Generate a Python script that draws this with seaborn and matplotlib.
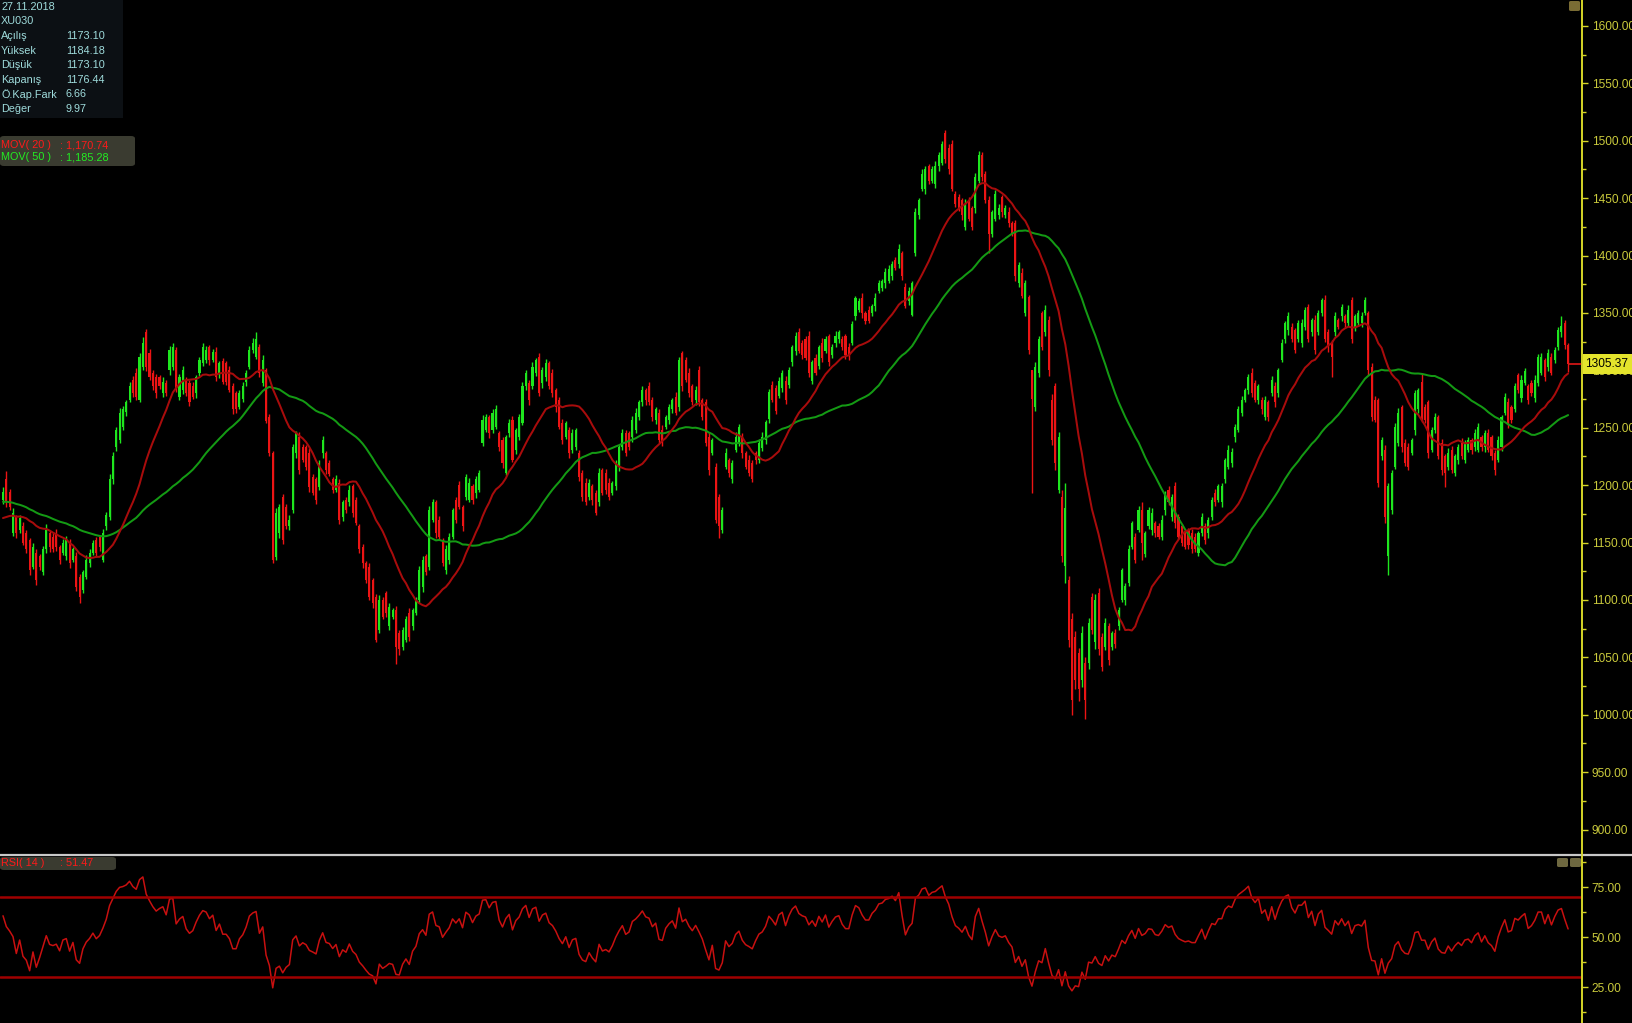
import numpy as np
import pandas as pd
import seaborn as sns
import matplotlib.pyplot as plt
from matplotlib.patches import Rectangle, FancyBboxPatch
from matplotlib.lines import Line2D
from matplotlib.ticker import MultipleLocator

# XU030 günlük mumlar (27.11.2018'den itibaren), değerler grafikten okundu
# ilk 50 kapanış grafiğin solunda kalan günler (MOV/RSI hesabı için)
warmup = [1180, 1188, 1195, 1203, 1210, 1206, 1199, 1204, 1212, 1208,
          1201, 1196, 1190, 1197, 1205, 1211, 1203, 1196, 1188, 1194,
          1200, 1192, 1185, 1190, 1183, 1178, 1186, 1192, 1185, 1178,
          1174, 1168, 1162, 1170, 1176, 1169, 1160, 1165, 1172, 1178,
          1171, 1163, 1158, 1166, 1174, 1180, 1175, 1168, 1176, 1182]

opens = [
    1187, 1205, 1194, 1158, 1172, 1161, 1164, 1158, 1152, 1129,
    1141, 1138, 1124, 1144, 1158, 1155, 1158, 1146, 1141, 1138,
    1150, 1135, 1138, 1120, 1109, 1120, 1132, 1141, 1152, 1155,
    1135, 1164, 1172, 1205, 1233, 1239, 1251, 1264, 1274, 1292,
    1298, 1274, 1303, 1333, 1315, 1298, 1294, 1294, 1280, 1289,
    1300, 1303, 1318, 1277, 1283, 1292, 1289, 1286, 1280, 1298,
    1306, 1309, 1320, 1309, 1316, 1297, 1308, 1306, 1300, 1286,
    1280, 1268, 1275, 1290, 1303, 1318, 1312, 1320, 1289, 1300,
    1259, 1228, 1137, 1158, 1190, 1181, 1164, 1178, 1228, 1242,
    1233, 1233, 1228, 1207, 1205, 1198, 1228, 1228, 1219, 1205,
    1196, 1202, 1172, 1187, 1185, 1199, 1187, 1164, 1146, 1132,
    1129, 1117, 1103, 1074, 1100, 1106, 1077, 1085, 1091, 1071,
    1059, 1065, 1089, 1077, 1089, 1100, 1111, 1138, 1129, 1170,
    1185, 1170, 1152, 1126, 1135, 1155, 1187, 1200, 1181, 1190,
    1187, 1199, 1193, 1196, 1237, 1248, 1259, 1248, 1251, 1245,
    1239, 1211, 1245, 1257, 1231, 1242, 1254, 1286, 1289, 1286,
    1298, 1312, 1289, 1294, 1306, 1298, 1283, 1274, 1254, 1242,
    1248, 1231, 1233, 1228, 1211, 1202, 1190, 1199, 1193, 1185,
    1213, 1211, 1202, 1193, 1199, 1216, 1233, 1245, 1245, 1242,
    1248, 1259, 1272, 1283, 1286, 1274, 1257, 1263, 1248, 1251,
    1257, 1266, 1277, 1268, 1315, 1309, 1298, 1286, 1274, 1300,
    1274, 1272, 1242, 1228, 1216, 1190, 1161, 1216, 1222, 1205,
    1231, 1237, 1242, 1228, 1222, 1219, 1228, 1222, 1232, 1239,
    1258, 1287, 1285, 1278, 1285, 1291, 1287, 1307, 1317, 1333,
    1324, 1327, 1330, 1291, 1311, 1304, 1324, 1317, 1330, 1313,
    1324, 1327, 1327, 1330, 1320, 1324, 1347, 1353, 1363, 1350,
    1353, 1350, 1356, 1369, 1372, 1376, 1378, 1382, 1396, 1393,
    1402, 1373, 1360, 1348, 1402, 1435, 1458, 1458, 1478, 1465,
    1462, 1478, 1481, 1507, 1494, 1497, 1454, 1451, 1448, 1425,
    1448, 1441, 1441, 1465, 1488, 1471, 1448, 1419, 1432, 1435,
    1451, 1435, 1438, 1428, 1428, 1376, 1385, 1350, 1364, 1300,
    1268, 1298, 1350, 1333, 1344, 1274, 1286, 1196, 1190, 1130,
    1117, 1083, 1068, 1054, 1030, 1045, 1045, 1103, 1063, 1106,
    1068, 1059, 1077, 1059, 1071, 1077, 1100, 1100, 1115, 1146,
    1155, 1161, 1178, 1140, 1164, 1161, 1167, 1164, 1155, 1178,
    1196, 1172, 1199, 1172, 1164, 1158, 1161, 1158, 1155, 1141,
    1158, 1164, 1158, 1172, 1193, 1187, 1185, 1205, 1216, 1219,
    1242, 1248, 1263, 1274, 1283, 1298, 1289, 1274, 1274, 1259,
    1272, 1280, 1286, 1280, 1309, 1327, 1335, 1338, 1335, 1327,
    1324, 1338, 1355, 1333, 1344, 1333, 1350, 1361, 1333, 1324,
    1333, 1344, 1347, 1347, 1341, 1361, 1338, 1341, 1341, 1350,
    1350, 1303, 1274, 1274, 1225, 1231, 1138, 1178, 1216, 1237,
    1268, 1237, 1233, 1228, 1248, 1266, 1290, 1268, 1272, 1231,
    1248, 1259, 1237, 1225, 1216, 1231, 1211, 1222, 1237, 1222,
    1231, 1239, 1233, 1231, 1242, 1233, 1245, 1242, 1228, 1222,
    1233, 1263, 1272, 1268, 1266, 1296, 1276, 1289, 1286, 1289,
    1276, 1289, 1298, 1309, 1303, 1312, 1309, 1320, 1333, 1341,
    1322]

closes = [
    1194, 1185, 1181, 1176, 1158, 1171, 1150, 1144, 1126, 1146,
    1117, 1129, 1144, 1161, 1146, 1144, 1146, 1135, 1150, 1152,
    1132, 1144, 1111, 1103, 1124, 1135, 1141, 1150, 1141, 1146,
    1158, 1174, 1205, 1225, 1248, 1263, 1266, 1272, 1286, 1280,
    1277, 1312, 1324, 1303, 1294, 1286, 1280, 1286, 1290, 1280,
    1318, 1320, 1283, 1294, 1300, 1280, 1272, 1277, 1294, 1309,
    1320, 1318, 1309, 1316, 1294, 1306, 1290, 1290, 1283, 1266,
    1266, 1280, 1286, 1298, 1318, 1324, 1327, 1298, 1309, 1256,
    1228, 1135, 1176, 1181, 1152, 1164, 1170, 1233, 1245, 1213,
    1222, 1216, 1198, 1193, 1187, 1219, 1239, 1213, 1210, 1196,
    1205, 1170, 1185, 1178, 1196, 1176, 1167, 1144, 1132, 1117,
    1103, 1097, 1065, 1100, 1085, 1089, 1094, 1091, 1059, 1057,
    1074, 1083, 1068, 1091, 1100, 1126, 1135, 1124, 1178, 1185,
    1158, 1155, 1132, 1144, 1155, 1178, 1170, 1181, 1164, 1207,
    1202, 1187, 1205, 1211, 1257, 1259, 1245, 1263, 1266, 1233,
    1219, 1242, 1254, 1222, 1248, 1259, 1286, 1298, 1274, 1303,
    1309, 1280, 1300, 1306, 1286, 1280, 1268, 1251, 1239, 1254,
    1228, 1245, 1248, 1207, 1190, 1185, 1202, 1187, 1176, 1211,
    1193, 1196, 1190, 1202, 1219, 1233, 1245, 1228, 1233, 1257,
    1263, 1272, 1283, 1274, 1272, 1259, 1266, 1239, 1237, 1259,
    1268, 1274, 1263, 1309, 1286, 1292, 1280, 1272, 1283, 1272,
    1259, 1237, 1213, 1239, 1170, 1164, 1178, 1228, 1211, 1219,
    1242, 1251, 1228, 1216, 1211, 1205, 1222, 1237, 1242, 1255,
    1281, 1274, 1265, 1291, 1298, 1274, 1300, 1320, 1330, 1317,
    1313, 1311, 1298, 1307, 1298, 1320, 1311, 1327, 1307, 1320,
    1330, 1333, 1320, 1313, 1313, 1340, 1363, 1360, 1350, 1343,
    1343, 1356, 1363, 1376, 1378, 1386, 1388, 1393, 1389, 1406,
    1382, 1356, 1369, 1376, 1438, 1448, 1471, 1475, 1465, 1475,
    1478, 1488, 1497, 1484, 1475, 1458, 1445, 1441, 1435, 1445,
    1432, 1425, 1468, 1488, 1468, 1448, 1419, 1438, 1454, 1441,
    1438, 1441, 1428, 1419, 1382, 1392, 1365, 1376, 1318, 1275,
    1303, 1327, 1320, 1353, 1300, 1239, 1219, 1242, 1138, 1180,
    1065, 1013, 1030, 1022, 1071, 1013, 1080, 1074, 1100, 1057,
    1042, 1080, 1048, 1071, 1062, 1091, 1126, 1112, 1144, 1167,
    1135, 1178, 1150, 1158, 1178, 1176, 1158, 1155, 1170, 1193,
    1185, 1190, 1167, 1155, 1150, 1146, 1148, 1144, 1144, 1158,
    1172, 1152, 1170, 1187, 1185, 1199, 1199, 1222, 1231, 1229,
    1251, 1266, 1274, 1283, 1294, 1280, 1274, 1286, 1266, 1274,
    1259, 1292, 1272, 1300, 1324, 1341, 1347, 1327, 1318, 1341,
    1341, 1353, 1327, 1344, 1318, 1350, 1361, 1327, 1320, 1312,
    1347, 1338, 1355, 1341, 1353, 1327, 1347, 1350, 1347, 1361,
    1300, 1259, 1257, 1202, 1239, 1172, 1199, 1211, 1251, 1263,
    1233, 1219, 1216, 1239, 1280, 1283, 1257, 1257, 1228, 1248,
    1259, 1225, 1213, 1211, 1228, 1213, 1225, 1233, 1225, 1237,
    1239, 1231, 1245, 1251, 1233, 1245, 1231, 1225, 1213, 1239,
    1259, 1277, 1254, 1257, 1286, 1283, 1292, 1299, 1274, 1280,
    1292, 1312, 1312, 1294, 1315, 1298, 1318, 1335, 1339, 1322,
    1305.37]

# üst / alt fitil uzunlukları (puan)
wick_up = [
    4, 7, 3, 4, 2, 3, 4, 3, 2, 4,  3, 2, 3, 5, 2, 3, 4, 2, 3, 4,
    3, 2, 4, 3, 2, 4, 3, 2, 3, 2,  4, 3, 5, 4, 3, 4, 3, 2, 4, 3,
    4, 3, 5, 3, 4, 2, 3, 2, 4, 3,  3, 4, 2, 3, 4, 2, 3, 4, 2, 3,
    4, 3, 2, 3, 4, 2, 3, 2, 4, 3,  2, 3, 4, 2, 3, 4, 6, 3, 4, 2,
    3, 2, 4, 3, 2, 3, 4, 3, 2, 4,  3, 2, 4, 3, 2, 3, 4, 2, 3, 2,
    4, 3, 2, 3, 4, 2, 3, 2, 3, 2,  3, 2, 2, 4, 3, 2, 3, 2, 4, 3,
    2, 3, 4, 2, 3, 4, 3, 2, 4, 3,  2, 3, 2, 4, 3, 2, 3, 4, 2, 3,
    4, 2, 3, 2, 4, 3, 2, 3, 4, 2,  3, 2, 4, 3, 2, 3, 4, 2, 3, 4,
    2, 3, 3, 4, 2, 3, 2, 3, 4, 2,  3, 4, 2, 3, 2, 4, 3, 2, 3, 4,
    2, 3, 4, 2, 3, 2, 4, 3, 2, 3,  4, 2, 3, 2, 4, 3, 2, 3, 4, 2,
    3, 2, 4, 3, 2, 3, 4, 2, 3, 4,  2, 3, 4, 2, 3, 2, 3, 4, 2, 3,
    4, 2, 3, 2, 4, 3, 2, 3, 4, 2,  3, 4, 2, 3, 2, 4, 3, 2, 3, 4,
    2, 3, 4, 2, 3, 2, 4, 3, 2, 3,  4, 2, 3, 2, 4, 3, 2, 3, 4, 2,
    3, 2, 4, 3, 2, 3, 4, 2, 3, 4,  2, 3, 4, 2, 3, 2, 4, 3, 2, 3,
    4, 2, 3, 2, 3, 4, 2, 3, 2, 4,  3, 2, 4, 3, 2, 3, 4, 2, 3, 4,
    2, 3, 4, 2, 3, 2, 4, 3, 2, 0,  4, 3, 2, 4, 3, 5, 3, 4, 6, 22,
    4, 6, 5, 4, 6, 5, 4, 3, 5, 4,  3, 4, 3, 2, 4, 3, 2, 3, 4, 2,
    3, 4, 7, 2, 3, 4, 2, 3, 4, 2,  3, 2, 4, 3, 2, 3, 2, 4, 3, 2,
    4, 3, 2, 3, 4, 2, 3, 2, 4, 3,  2, 3, 4, 2, 3, 4, 3, 2, 3, 4,
    2, 3, 4, 2, 3, 2, 4, 3, 2, 3,  4, 2, 3, 2, 4, 3, 2, 5, 3, 2,
    4, 2, 3, 2, 4, 3, 2, 3, 4, 3,  2, 3, 4, 2, 3, 4, 3, 2, 3, 4,
    2, 3, 4, 2, 3, 2, 8, 3, 2, 3,  4, 2, 3, 2, 4, 3, 2, 3, 4, 2,
    3, 2, 4, 3, 2, 3, 4, 2, 3, 4,  2, 3, 4, 2, 3, 2, 4, 3, 2, 3,
    4, 2, 3, 2, 4, 3, 2, 3, 8, 3,  2]

wick_dn = [
    3, 4, 3, 2, 4, 3, 2, 3, 4, 2,  4, 3, 2, 3, 4, 2, 3, 4, 2, 3,
    4, 2, 3, 6, 3, 2, 3, 2, 4, 3,  2, 3, 2, 4, 3, 2, 3, 4, 2, 3,
    3, 2, 3, 4, 2, 3, 4, 2, 3, 2,  4, 3, 2, 3, 4, 2, 3, 2, 4, 3,
    2, 3, 4, 2, 3, 4, 2, 3, 2, 4,  3, 2, 3, 4, 2, 3, 2, 4, 3, 2,
    3, 3, 2, 4, 3, 2, 3, 2, 4, 3,  2, 3, 4, 2, 3, 2, 4, 3, 2, 3,
    2, 4, 3, 2, 3, 4, 2, 3, 4, 2,  3, 4, 2, 3, 2, 4, 3, 2, 15, 5,
    3, 2, 4, 3, 2, 3, 4, 2, 3, 2,  4, 3, 2, 3, 4, 2, 3, 2, 4, 3,
    2, 3, 4, 2, 3, 2, 4, 3, 2, 3,  4, 2, 3, 2, 4, 3, 2, 3, 4, 2,
    3, 2, 4, 3, 2, 3, 4, 2, 3, 2,  4, 3, 2, 3, 4, 2, 3, 4, 2, 3,
    2, 4, 3, 2, 3, 4, 2, 3, 2, 4,  3, 2, 3, 4, 2, 3, 4, 2, 3, 2,
    4, 3, 2, 3, 4, 2, 3, 2, 4, 3,  2, 3, 4, 2, 3, 10, 3, 2, 4, 3,
    2, 3, 4, 2, 3, 2, 4, 3, 2, 3,  4, 2, 3, 2, 4, 3, 2, 3, 4, 2,
    3, 2, 4, 3, 2, 3, 4, 2, 3, 2,  4, 3, 2, 3, 4, 2, 3, 2, 4, 3,
    2, 3, 4, 2, 3, 4, 2, 3, 2, 4,  3, 2, 3, 1, 2, 3, 2, 4, 3, 2,
    3, 4, 2, 3, 4, 2, 3, 2, 4, 3,  2, 3, 4, 2, 3, 2, 17, 3, 2, 3,
    4, 2, 3, 2, 4, 3, 2, 3, 4, 82,  3, 4, 2, 3, 5, 4, 6, 3, 5, 15,
    6, 13, 8, 10, 6, 17, 5, 4, 6, 5,  4, 3, 5, 3, 4, 3, 2, 4, 3, 2,
    3, 2, 15, 3, 2, 4, 3, 2, 3, 4,  2, 3, 4, 2, 3, 2, 4, 3, 2, 3,
    2, 3, 4, 2, 3, 2, 4, 3, 2, 3,  4, 2, 3, 2, 4, 3, 2, 3, 4, 2,
    3, 2, 4, 3, 2, 3, 4, 2, 3, 2,  4, 3, 2, 3, 4, 2, 3, 2, 4, 18,
    3, 2, 4, 3, 2, 3, 4, 2, 3, 2,  4, 3, 2, 4, 3, 5, 16, 3, 2, 3,
    4, 2, 3, 2, 4, 3, 2, 3, 4, 2,  3, 2, 4, 13, 3, 2, 3, 4, 2, 3,
    2, 4, 3, 2, 3, 4, 2, 3, 4, 2,  3, 2, 4, 3, 2, 3, 4, 2, 3, 2,
    4, 3, 2, 3, 4, 2, 3, 2, 4, 3,  7]

info_labels = ["Açılış", "Yüksek", "Düşük", "Kapanış", "Ö.Kap.Fark", "Değer"]
info_values = ["1173.10", "1184.18", "1173.10", "1176.44", "6.66", "9.97"]
price_ticks = list(range(900, 1601, 50))
rsi_ticks = [25, 50, 75]
rsi_levels = [30, 70]

GREEN = "#1ee61e"
RED = "#ec1414"
MA20_C = "#a80c0c"
MA50_C = "#149a14"
YEL = "#d6d628"
YEL_TXT = "#caca3c"
INFO_TXT = "#9fdcdc"

sns.set_theme(style="dark", rc={"axes.facecolor": "black", "figure.facecolor": "black"})
plt.rcParams["font.family"] = ["Liberation Sans", "DejaVu Sans"]

n = min(len(opens), len(closes), len(wick_up), len(wick_dn))
df = pd.DataFrame({"i": np.arange(n), "open": opens[:n], "close": closes[:n],
                   "up": wick_up[:n], "dn": wick_dn[:n]})
df["top"] = df[["open", "close"]].max(axis=1)
df["bot"] = df[["open", "close"]].min(axis=1)
df["high"] = df["top"] + df["up"]
df["low"] = df["bot"] - df["dn"]

allc = pd.Series(warmup + list(df["close"]))
w = len(warmup)
df["ma20"] = allc.rolling(20).mean().iloc[w:].values
df["ma50"] = allc.rolling(50).mean().iloc[w:].values
delta = allc.diff()
gain = delta.clip(lower=0).ewm(alpha=1 / 14, adjust=False).mean()
loss = (-delta.clip(upper=0)).ewm(alpha=1 / 14, adjust=False).mean()
df["rsi"] = (100 - 100 / (1 + gain / loss)).iloc[w:].values

W, H = 1632, 1023
fig = plt.figure(figsize=(W / 100, H / 100), dpi=100)
ax = fig.add_axes([0, 1 - 854 / H, 1582 / W, 854 / H])
ax2 = fig.add_axes([0, 0, 1582 / W, 167 / H])

# mumlar
for is_up, col in [(True, GREEN), (False, RED)]:
    d = df[(df["close"] >= df["open"]) == is_up]
    ax.vlines(d["i"], d["low"], d["high"], color=col, lw=1.0, zorder=2)
    ax.bar(d["i"], (d["top"] - d["bot"]).clip(lower=0.9), bottom=d["bot"],
           width=0.62, color=col, linewidth=0, zorder=3)

sns.lineplot(data=df, x="i", y="ma50", ax=ax, color=MA50_C, lw=1.45, zorder=4)
sns.lineplot(data=df, x="i", y="ma20", ax=ax, color=MA20_C, lw=1.45, zorder=4)

xmax = (1582 - 3) / 3.33
xmin = -3 / 3.33
ax.set_xlim(xmin, xmax)
ax.set_ylim(878.7, 1622.6)

# son fiyat etiketi
last = df["close"].iloc[-1]
ax.hlines(last, df["i"].iloc[-1], xmax, color="#e01818", lw=1.2, zorder=5)
ax.add_patch(Rectangle((1.0006, last - 8.7), 50 / 1582, 17.4,
                       transform=ax.get_yaxis_transform(), clip_on=False,
                       facecolor="#e4e42c", edgecolor="none", zorder=10))
ax.text(1.0 + 25 / 1582, last, f"{last:.2f}", transform=ax.get_yaxis_transform(),
        ha="center", va="center", fontsize=8.6, color="black", zorder=11, clip_on=False)

sns.lineplot(data=df, x="i", y="rsi", ax=ax2, color="#c81010", lw=1.1)
for lv in rsi_levels:
    ax2.axhline(lv, color="#a00000", lw=1.8)
ax2.set_xlim(xmin, xmax)
ax2.set_ylim(7, 90.5)

for a, ticks, minor in [(ax, price_ticks, 25), (ax2, rsi_ticks, 12.5)]:
    a.set_facecolor("black")
    a.grid(False)
    a.set_xticks([])
    a.set_xlabel("")
    a.set_ylabel("")
    a.yaxis.tick_right()
    a.set_yticks(ticks)
    a.set_yticklabels([f"{t:.2f}" for t in ticks])
    a.yaxis.set_minor_locator(MultipleLocator(minor))
    a.tick_params(axis="y", which="major", length=4, width=1, color=YEL,
                  labelcolor=YEL_TXT, labelsize=8.6, pad=3)
    a.tick_params(axis="y", which="minor", length=3, width=1, color=YEL)
    for s in ["left", "top", "bottom"]:
        a.spines[s].set_visible(False)
    a.spines["right"].set_color(YEL)
    a.spines["right"].set_linewidth(1.2)

# panel ayırıcı
fig.add_artist(Line2D([0, 1], [1 - 854.5 / H, 1 - 854.5 / H], transform=fig.transFigure,
                      color="#c8c8c8", lw=1.6))
fig.add_artist(Line2D([1582 / W, 1582 / W], [0, 1], transform=fig.transFigure,
                      color=YEL, lw=1.2))


def fbox(x0, y0, x1, y1, fc, r=3):
    fig.add_artist(FancyBboxPatch((x0 / W, 1 - y1 / H), (x1 - x0) / W, (y1 - y0) / H,
                                  boxstyle=f"round,pad=0,rounding_size={r / W}",
                                  transform=fig.transFigure, facecolor=fc,
                                  edgecolor="none", zorder=20))


# bilgi kutusu
fig.add_artist(Rectangle((0, 1 - 118 / H), 123 / W, 118 / H, transform=fig.transFigure,
                         facecolor="#0c1014", edgecolor="none", zorder=19))
fig.text(1 / W, 1 - 6.5 / H, "27.11.2018", color=INFO_TXT, fontsize=7.8, va="center", zorder=21)
fig.text(1 / W, 1 - 21.5 / H, "XU030", color=INFO_TXT, fontsize=7.8, va="center", zorder=21)
for k, (lab, val) in enumerate(zip(info_labels, info_values)):
    yy = 36 + k * 14.6
    fig.text(1 / W, 1 - yy / H, lab, color=INFO_TXT, fontsize=7.8, va="center", zorder=21)
    fig.text(66 / W, 1 - yy / H, val, color=INFO_TXT, fontsize=7.8, va="center", zorder=21)

# MOV göstergesi
fbox(0, 136, 135, 166, "#3a3b30", r=4)
fig.text(1 / W, 1 - 145.5 / H, "MOV( 20 )", color="#ff1a1a", fontsize=7.8, va="center", zorder=21)
fig.text(60 / W, 1 - 145.5 / H, ": 1,170.74", color="#ff1a1a", fontsize=7.8, va="center", zorder=21)
fig.text(1 / W, 1 - 157.5 / H, "MOV( 50 )", color="#22ee22", fontsize=7.8, va="center", zorder=21)
fig.text(60 / W, 1 - 157.5 / H, ": 1,185.28", color="#22ee22", fontsize=7.8, va="center", zorder=21)

# RSI göstergesi
fbox(0, 857, 116, 870, "#3a3b30", r=4)
fig.text(1 / W, 1 - 863.5 / H, "RSI( 14 )", color="#ff1a1a", fontsize=7.8, va="center", zorder=21)
fig.text(60 / W, 1 - 863.5 / H, ": 51.47", color="#ff1a1a", fontsize=7.8, va="center", zorder=21)

# pencere düğmeleri
fbox(1569, 1, 1580, 11, "#7a6c34", r=2)
fbox(1557, 858, 1568, 867, "#6e6840", r=2)
fbox(1570, 858, 1581, 867, "#6e6840", r=2)

fig.savefig("out.png", dpi=100, facecolor="black")
